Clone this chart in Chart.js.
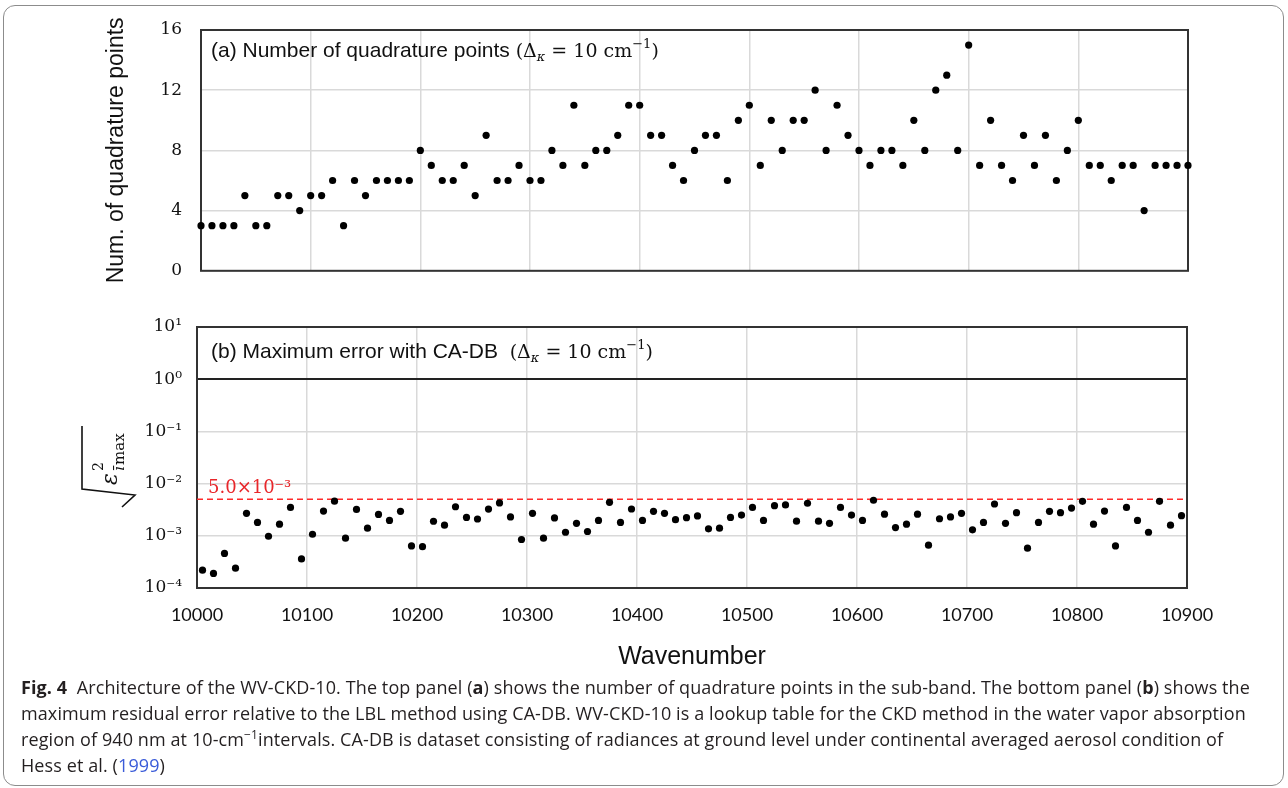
<!DOCTYPE html>
<html>
<head>
<meta charset="utf-8">
<script src="https://cdn.jsdelivr.net/npm/chart.js@4.4.1/dist/chart.umd.min.js"></script>
<style>
  body { margin:0; background:#fff; width:1288px; height:788px; position:relative; overflow:hidden; }
  #frame { position:absolute; left:3px; top:5px; width:1281px; height:781px; border:1px solid #8c8c8c; border-radius:12px; box-sizing:border-box; }
  canvas { position:absolute; left:0; }
  .ptitle { position:absolute; left:211px; height:26px; line-height:26px; font-family:"Liberation Sans", Arial, sans-serif; font-size:21px; color:#111; white-space:nowrap; }
  .math { font-family:"DejaVu Serif", serif; font-size:19px; }
  .math sub { font-style:italic; font-size:13px; vertical-align:-4px; line-height:0; }
  .math sup { font-size:13px; vertical-align:9px; line-height:0; }
  #caption { position:absolute; left:21px; top:674px; font-family:"Open Sans", "Noto Sans", sans-serif; font-size:18px; letter-spacing:0.1px; color:#231f20; }
  #caption div { height:26px; line-height:26px; white-space:nowrap; }
  #caption sup { font-size:12px; vertical-align:7px; line-height:0; }
  #caption .ref { color:#3a5bd8; }
</style>
</head>
<body>
<div id="frame"></div>
<canvas id="cTop" width="1288" height="300" style="top:0"></canvas>
<canvas id="cBot" width="1288" height="390" style="top:300px"></canvas>

<div class="ptitle" style="top:37px">(a) Number of quadrature points <span class="math">(Δ<sub>κ</sub> = 10 cm<sup>−1</sup>)</span></div>
<div class="ptitle" style="top:338px">(b) Maximum error with CA-DB&nbsp; <span class="math">(Δ<sub>κ</sub> = 10 cm<sup>−1</sup>)</span></div>

<div id="caption">
  <div><b>Fig. 4</b>&nbsp; Architecture of the WV-CKD-10. The top panel (<b>a</b>) shows the number of quadrature points in the sub-band. The bottom panel (<b>b</b>) shows the</div>
  <div>maximum residual error relative to the LBL method using CA-DB. WV-CKD-10 is a lookup table for the CKD method in the water vapor absorption</div>
  <div>region of 940 nm at 10-cm<sup>−1</sup>intervals. CA-DB is dataset consisting of radiances at ground level under continental averaged aerosol condition of</div>
  <div>Hess et al. (<span class="ref">1999</span>)</div>
</div>

<script>
// ── data ──────────────────────────────────────
// panel (a): sub-band edges 10000..10900, step 10
const wavenumbers = Array.from({ length: 91 }, (_, i) => 10000 + 10 * i);
const quadPoints = [
  3, 3, 3, 3, 5, 3, 3, 5, 5, 4,
  5, 5, 6, 3, 6, 5, 6, 6, 6, 6,
  8, 7, 6, 6, 7, 5, 9, 6, 6, 7,
  6, 6, 8, 7, 11, 7, 8, 8, 9, 11,
  11, 9, 9, 7, 6, 8, 9, 9, 6, 10,
  11, 7, 10, 8, 10, 10, 12, 8, 11, 9,
  8, 7, 8, 8, 7, 10, 8, 12, 13, 8,
  15, 7, 10, 7, 6, 9, 7, 9, 6, 8,
  10, 7, 7, 6, 7, 7, 4, 7, 7, 7,
  7
];

// panel (b): sub-band centres 10005..10895
const bandCenters = Array.from({ length: 90 }, (_, j) => 10005 + 10 * j);
const maxError = [
  2.2e-4, 1.9e-4, 4.6e-4, 2.4e-4, 2.7e-3, 1.8e-3, 9.8e-4, 1.67e-3, 3.5e-3, 3.6e-4,
  1.07e-3, 2.98e-3, 4.6e-3, 9.0e-4, 3.2e-3, 1.4e-3, 2.57e-3, 1.97e-3, 2.95e-3, 6.4e-4,
  6.2e-4, 1.9e-3, 1.6e-3, 3.6e-3, 2.25e-3, 2.1e-3, 3.25e-3, 4.26e-3, 2.3e-3, 8.5e-4,
  2.7e-3, 9.0e-4, 2.2e-3, 1.17e-3, 1.73e-3, 1.21e-3, 1.97e-3, 4.37e-3, 1.8e-3, 3.26e-3,
  1.97e-3, 2.95e-3, 2.7e-3, 2.04e-3, 2.22e-3, 2.4e-3, 1.36e-3, 1.4e-3, 2.25e-3, 2.5e-3,
  3.5e-3, 1.97e-3, 3.78e-3, 3.9e-3, 1.91e-3, 4.2e-3, 1.91e-3, 1.73e-3, 3.5e-3, 2.5e-3,
  1.97e-3, 4.8e-3, 2.6e-3, 1.44e-3, 1.67e-3, 2.6e-3, 6.6e-4, 2.12e-3, 2.3e-3, 2.7e-3,
  1.3e-3, 1.8e-3, 4.07e-3, 1.73e-3, 2.77e-3, 5.8e-4, 1.8e-3, 2.95e-3, 2.77e-3, 3.4e-3,
  4.57e-3, 1.67e-3, 2.98e-3, 6.4e-4, 3.5e-3, 1.97e-3, 1.17e-3, 4.57e-3, 1.6e-3, 2.43e-3
];
const threshold = 5.0e-3;
const thresholdLabel = '5.0×10⁻³';

const decades = [1e-4, 1e-3, 1e-2, 1e-1, 1e0, 1e1];
const decadeLabels = ['10⁻⁴', '10⁻³', '10⁻²', '10⁻¹', '10⁰', '10¹'];

// ── shared bits ───────────────────────────────
const GRID = '#d9d9d9';
const INK = '#111';
const tickFont = { family: 'DejaVu Serif', size: 17 };

const framePlugin = {
  id: 'frame',
  beforeDatasetsDraw(chart) {
    const { ctx, chartArea: a } = chart;
    ctx.save();
    ctx.strokeStyle = '#333';
    ctx.lineWidth = 2;
    ctx.strokeRect(a.left, a.top, a.right - a.left, a.bottom - a.top);
    ctx.restore();
  }
};

// ── (a) number of quadrature points ───────────
new Chart(document.getElementById('cTop'), {
  type: 'scatter',
  data: {
    datasets: [{
      data: wavenumbers.map((x, i) => ({ x, y: quadPoints[i] })),
      backgroundColor: '#000', borderColor: '#000',
      pointRadius: 3.6, pointHoverRadius: 3.6, borderWidth: 0, clip: false
    }]
  },
  options: {
    responsive: false, animation: false, events: [],
    layout: { padding: { left: 0, top: 30, right: 100, bottom: 10 } },
    plugins: { legend: { display: false }, tooltip: { enabled: false } },
    scales: {
      x: {
        type: 'linear', min: 10000, max: 10900,
        ticks: { display: false, stepSize: 100 },
        grid: { color: GRID, lineWidth: 1.5, drawTicks: false },
        border: { display: false },
        afterFit: s => { s.height = 0; }
      },
      y: {
        min: 0, max: 16,
        ticks: { stepSize: 4, padding: 19, color: INK, font: tickFont },
        grid: { color: GRID, lineWidth: 1.5, drawTicks: false },
        border: { display: false },
        title: {
          display: true, text: 'Num. of quadrature points', color: INK,
          font: { family: 'Liberation Sans', size: 23 }, padding: { top: 103 }
        },
        afterFit: s => { s.width = 201; }
      }
    }
  },
  plugins: [framePlugin]
});

// ── (b) maximum error ─────────────────────────
const annotPlugin = {
  id: 'annot',
  afterDraw(chart) {
    const { ctx, chartArea: a, scales } = chart;
    ctx.save();
    // threshold label
    ctx.fillStyle = '#e8262a';
    ctx.font = '18px "DejaVu Serif"';
    ctx.textBaseline = 'alphabetic';
    ctx.fillText(thresholdLabel, a.left + 11, scales.y.getPixelForValue(threshold) - 6);

    // y title: sqrt(eps^2_{i max}), rotated
    ctx.translate(82, 189);
    ctx.rotate(-Math.PI / 2);
    ctx.strokeStyle = INK;
    ctx.fillStyle = INK;
    ctx.lineWidth = 1.6;
    ctx.beginPath();
    ctx.moveTo(63, 0);
    ctx.lineTo(0, 0);
    ctx.lineTo(-6, 53);
    ctx.lineTo(-18, 40);
    ctx.stroke();
    ctx.font = 'italic 22px "DejaVu Serif"';
    ctx.fillText('ε', 4, 35);
    ctx.font = '14px "DejaVu Serif"';
    ctx.fillText('2', 18, 21);
    ctx.font = 'italic 15px "DejaVu Serif"';
    ctx.fillText('ī', 18, 42);
    ctx.font = '15px "DejaVu Serif"';
    ctx.fillText('max', 24, 42);
    ctx.restore();
  }
};

new Chart(document.getElementById('cBot'), {
  type: 'scatter',
  data: {
    datasets: [{
      data: bandCenters.map((x, j) => ({ x, y: maxError[j] })),
      backgroundColor: '#000', borderColor: '#000',
      pointRadius: 3.6, pointHoverRadius: 3.6, borderWidth: 0, clip: false
    }, {
      type: 'line',
      data: [{ x: 10000, y: threshold }, { x: 10900, y: threshold }],
      borderColor: '#ff2a2a', borderWidth: 1.5, borderDash: [6, 4], pointRadius: 0
    }]
  },
  options: {
    responsive: false, animation: false, events: [],
    layout: { padding: { left: 0, top: 27, right: 101, bottom: 0 } },
    plugins: { legend: { display: false }, tooltip: { enabled: false } },
    scales: {
      x: {
        type: 'linear', min: 10000, max: 10900,
        ticks: {
          stepSize: 100, padding: 16, color: INK, maxRotation: 0, autoSkip: false,
          font: { family: 'Lato', size: 18 }, callback: v => String(v)
        },
        grid: { color: GRID, lineWidth: 1.5, drawTicks: false },
        border: { display: false },
        title: {
          display: true, text: 'Wavenumber', color: INK,
          font: { family: 'Liberation Sans', size: 25 }, padding: { bottom: 18 }
        },
        afterFit: s => { s.height = 102; }
      },
      y: {
        type: 'logarithmic', min: 1e-4, max: 10,
        afterBuildTicks: s => { s.ticks = decades.map(v => ({ value: v })); },
        ticks: {
          padding: 15, color: INK, font: tickFont,
          callback: v => decadeLabels[decades.findIndex(d => Math.abs(Math.log10(d) - Math.log10(v)) < 1e-6)]
        },
        grid: {
          color: c => (c.tick && Math.abs(c.tick.value - 1) < 1e-9) ? '#222' : GRID,
          lineWidth: c => (c.tick && Math.abs(c.tick.value - 1) < 1e-9) ? 2 : 1.5,
          drawTicks: false
        },
        border: { display: false },
        afterFit: s => { s.width = 197; }
      }
    }
  },
  plugins: [framePlugin, annotPlugin]
});
</script>
</body>
</html>
